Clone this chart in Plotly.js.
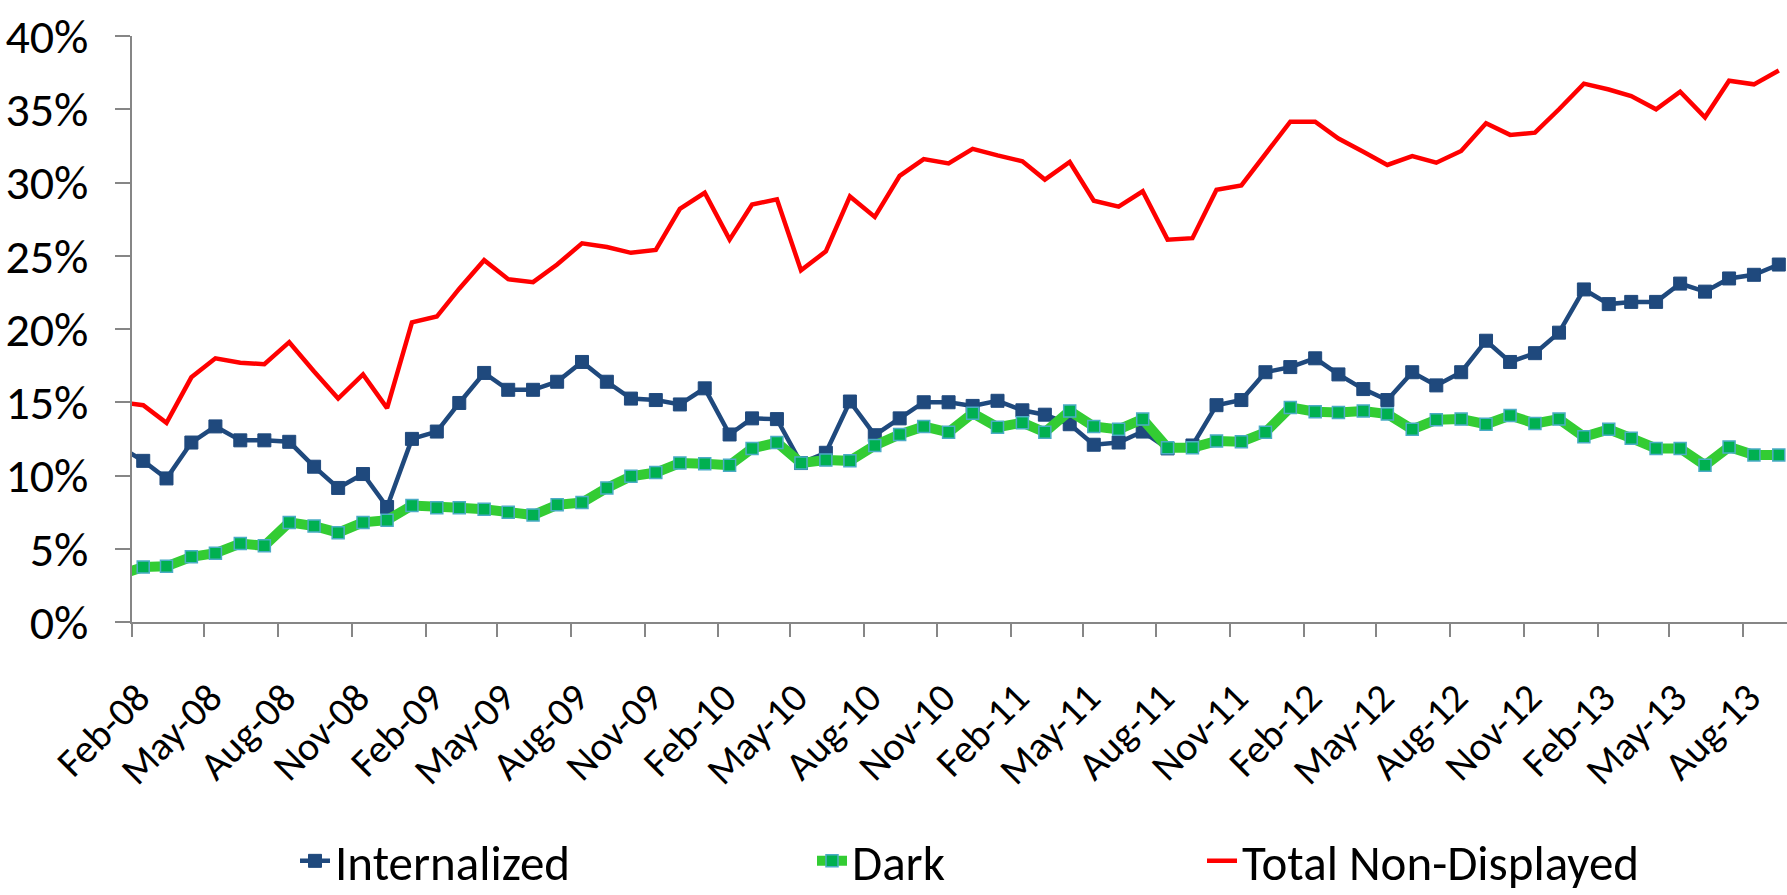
<!DOCTYPE html>
<html>
<head>
<meta charset="utf-8">
<script src="https://cdn.plot.ly/plotly-3.0.1.min.js"></script>
<style>
  html, body { margin: 0; padding: 0; background: #ffffff; overflow: hidden; }
  #chart { width: 1787px; height: 895px; }
</style>
</head>
<body>
<div id="chart"></div>
<script>
// Monthly observations (mid-month), Jan-2008 .. Sep-2013
const months = [
  "2008-01-15","2008-02-15","2008-03-15","2008-04-15","2008-05-15","2008-06-15","2008-07-15","2008-08-15","2008-09-15","2008-10-15","2008-11-15","2008-12-15",
  "2009-01-15","2009-02-15","2009-03-15","2009-04-15","2009-05-15","2009-06-15","2009-07-15","2009-08-15","2009-09-15","2009-10-15","2009-11-15","2009-12-15",
  "2010-01-15","2010-02-15","2010-03-15","2010-04-15","2010-05-15","2010-06-15","2010-07-15","2010-08-15","2010-09-15","2010-10-15","2010-11-15","2010-12-15",
  "2011-01-15","2011-02-15","2011-03-15","2011-04-15","2011-05-15","2011-06-15","2011-07-15","2011-08-15","2011-09-15","2011-10-15","2011-11-15","2011-12-15",
  "2012-01-15","2012-02-15","2012-03-15","2012-04-15","2012-05-15","2012-06-15","2012-07-15","2012-08-15","2012-09-15","2012-10-15","2012-11-15","2012-12-15",
  "2013-01-15","2013-02-15","2013-03-15","2013-04-15","2013-05-15","2013-06-15","2013-07-15","2013-08-15","2013-09-15"
];

// Values in percent
const internalized = [
  12.0, 11.0, 9.8, 12.25, 13.35, 12.4, 12.4, 12.3, 10.6, 9.15, 10.1, 7.85,
  12.5, 13.0, 14.95, 17.0, 15.85, 15.85, 16.4, 17.75, 16.4, 15.25, 15.15, 14.85,
  15.95, 12.8, 13.9, 13.85, 10.85, 11.55, 15.05, 12.75, 13.9, 15.0, 15.0, 14.75,
  15.1, 14.45, 14.15, 13.5, 12.1, 12.25, 13.0, 11.85, 12.05, 14.8, 15.15, 17.05,
  17.4, 18.0, 16.9, 15.9, 15.15, 17.05, 16.15, 17.05, 19.2, 17.75, 18.35, 19.75,
  22.7, 21.7, 21.85, 21.85, 23.1, 22.55, 23.45, 23.7, 24.4
];

const dark = [
  3.2, 3.75, 3.8, 4.45, 4.7, 5.35, 5.2, 6.8, 6.55, 6.1, 6.8, 6.95,
  7.95, 7.8, 7.8, 7.7, 7.5, 7.3, 8.0, 8.15, 9.15, 9.95, 10.2, 10.85,
  10.8, 10.7, 11.85, 12.25, 10.85, 11.05, 11.0, 12.05, 12.8, 13.35, 12.95, 14.25,
  13.3, 13.6, 12.95, 14.4, 13.35, 13.15, 13.85, 11.9, 11.9, 12.35, 12.3, 12.95,
  14.65, 14.35, 14.3, 14.4, 14.2, 13.15, 13.8, 13.85, 13.5, 14.1, 13.55, 13.85,
  12.65, 13.15, 12.55, 11.85, 11.85, 10.7, 11.95, 11.4, 11.4
];

const totalNonDisplayed = [
  15.0, 14.8, 13.6, 16.7, 18.0, 17.7, 17.6, 19.1, 17.1, 15.25, 16.9, 14.6,
  20.45, 20.85, 22.75, 24.7, 23.4, 23.2, 24.4, 25.85, 25.6, 25.2, 25.4, 28.2,
  29.3, 26.1, 28.5, 28.85, 24.0, 25.3, 29.05, 27.65, 30.45, 31.6, 31.3, 32.3,
  31.85, 31.45, 30.2, 31.4, 28.75, 28.35, 29.4, 26.1, 26.2, 29.5, 29.8, 31.95,
  34.15, 34.15, 33.0, 32.1, 31.2, 31.8, 31.35, 32.15, 34.05, 33.25, 33.4, 35.0,
  36.75, 36.35, 35.9, 35.0, 36.2, 34.45, 36.95, 36.7, 37.65
];

const seriesNames = ["Internalized", "Dark", "Total Non-Displayed"];

const FONT = "Calibri, Carlito, 'Liberation Sans', Arial, sans-serif";
const W = 1787, H = 895;
const axisColor = "#868686";

const traces = [
  {
    x: months, y: internalized, name: seriesNames[0], type: "scatter", mode: "lines+markers",
    line: { color: "#1F497D", width: 4.5 },
    marker: { symbol: "square", size: 13, color: "#1F497D", line: { color: "#1F497D", width: 1 } },
    legend: "legend"
  },
  {
    x: months, y: dark, name: seriesNames[1], type: "scatter", mode: "lines+markers",
    line: { color: "#33CC33", width: 10 },
    marker: { symbol: "square", size: 12, color: "#00B050", line: { color: "#4BACC6", width: 1.5 } },
    legend: "legend2"
  },
  {
    x: months, y: totalNonDisplayed, name: seriesNames[2], type: "scatter", mode: "lines",
    line: { color: "#FF0000", width: 4.5 },
    legend: "legend3"
  }
];

function legendAt(px) {
  return {
    xref: "container", yref: "container",
    x: px / W, y: 1 - 861 / H,
    xanchor: "left", yanchor: "middle",
    orientation: "h",
    bgcolor: "rgba(0,0,0,0)",
    borderwidth: 0,
    font: { family: FONT, size: 49, color: "#000000" }
  };
}

const layout = {
  width: W, height: H,
  margin: { l: 132.3, r: 0, t: 36, b: 272.7, pad: 0 },
  paper_bgcolor: "#ffffff",
  plot_bgcolor: "#ffffff",
  font: { family: FONT, color: "#000000" },
  showlegend: true,
  xaxis: {
    type: "date",
    range: ["2008-02-01", "2013-09-25 05:00"],
    tick0: "2008-02-01",
    dtick: "M3",
    tickformat: "%b-%y",
    tickangle: -45,
    ticks: "outside", ticklen: 13, tickwidth: 2, tickcolor: axisColor,
    ticklabelstandoff: 21,
    ticklabelshift: 6,
    showline: true, linecolor: axisColor, linewidth: 2,
    showgrid: false, zeroline: false,
    tickfont: { family: FONT, size: 40, color: "#000000" },
    automargin: false,
    fixedrange: true
  },
  yaxis: {
    range: [0, 40],
    tick0: 0, dtick: 5,
    ticksuffix: "%",
    ticks: "outside", ticklen: 15, tickwidth: 2, tickcolor: axisColor,
    ticklabelstandoff: 17,
    showline: true, linecolor: axisColor, linewidth: 2,
    showgrid: false, zeroline: false,
    tickfont: { family: FONT, size: 48, color: "#000000" },
    automargin: false,
    fixedrange: true
  },
  legend: legendAt(295),
  legend2: legendAt(812),
  legend3: legendAt(1202)
};

Plotly.newPlot("chart", traces, layout, { displayModeBar: false, staticPlot: true });
</script>
</body>
</html>
